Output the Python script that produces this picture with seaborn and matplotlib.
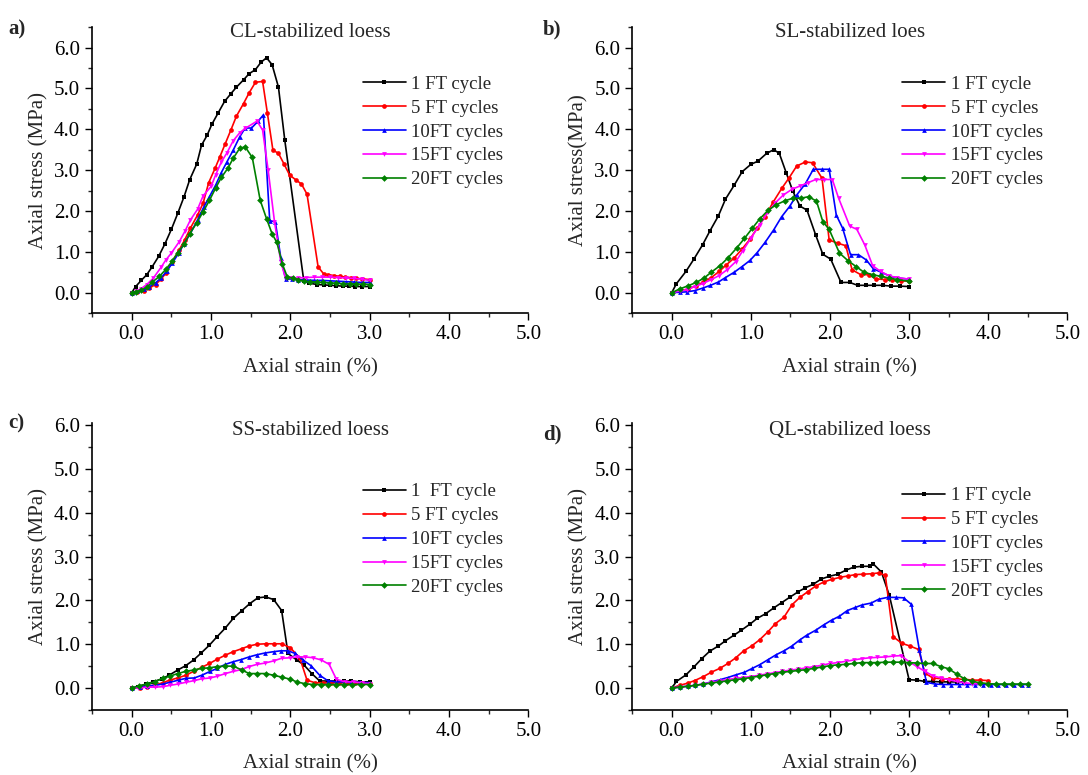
import numpy as np
import pandas as pd
import matplotlib
matplotlib.use("Agg")
import matplotlib.pyplot as plt
import seaborn as sns
from matplotlib.ticker import MultipleLocator, FormatStrFormatter

# ---- data (strain %, stress MPa) ----

# a) CL-stabilized loess
cl_x1 = [0, 0.05, 0.12, 0.19, 0.26, 0.34, 0.42, 0.5, 0.58, 0.66, 0.73, 0.82, 0.88, 0.95, 1.01, 1.09, 1.17, 1.25, 1.32, 1.41,
         1.48, 1.56, 1.63, 1.70, 1.77, 1.85, 1.93, 2.17, 2.24, 2.34, 2.42, 2.5, 2.58, 2.66, 2.74, 2.82, 2.9, 3.0]
cl_y1 = [0, 0.15, 0.3, 0.44, 0.64, 0.89, 1.2, 1.55, 1.94, 2.35, 2.76, 3.15, 3.61, 3.85, 4.12, 4.4, 4.68, 4.87, 5.03, 5.21,
         5.36, 5.46, 5.64, 5.75, 5.58, 5.03, 3.73, 0.28, 0.23, 0.2, 0.19, 0.18, 0.17, 0.16, 0.16, 0.15, 0.15, 0.15]
cl_x5 = [0, 0.07, 0.15, 0.22, 0.3, 0.37, 0.43, 0.51, 0.6, 0.67, 0.74, 0.83, 0.9, 0.97, 1.05, 1.11, 1.18, 1.25, 1.32, 1.41,
         1.48, 1.56, 1.65, 1.71, 1.78, 1.85, 1.92, 1.99, 2.07, 2.14, 2.21, 2.35, 2.42, 2.48, 2.55, 2.62, 2.69, 2.76, 2.83,
         2.9, 3.0]
cl_y5 = [0, 0.02, 0.05, 0.11, 0.2, 0.33, 0.48, 0.76, 1.05, 1.3, 1.58, 1.9, 2.19, 2.69, 3.04, 3.32, 3.65, 3.98, 4.32, 4.63,
         4.89, 5.15, 5.17, 4.4, 3.49, 3.41, 3.15, 2.88, 2.76, 2.66, 2.41, 0.63, 0.46, 0.44, 0.42, 0.4, 0.38, 0.37, 0.35,
         0.34, 0.32]
cl_x10 = [0, 0.07, 0.15, 0.22, 0.3, 0.37, 0.44, 0.51, 0.59, 0.66, 0.74, 0.83, 0.91, 0.98, 1.06, 1.13, 1.2, 1.28, 1.36,
          1.43, 1.51, 1.59, 1.66, 1.74, 1.81, 1.88, 1.94, 2.02, 2.1, 2.2, 2.3, 2.4, 2.5, 2.6, 2.7, 2.8, 2.9, 3.0]
cl_y10 = [0, 0.03, 0.08, 0.14, 0.24, 0.36, 0.52, 0.72, 0.96, 1.2, 1.45, 1.78, 2.1, 2.35, 2.64, 2.94, 3.2, 3.49, 3.81,
          4.03, 4.03, 4.19, 4.35, 1.76, 1.74, 0.85, 0.33, 0.33, 0.32, 0.31, 0.3, 0.3, 0.29, 0.28, 0.27, 0.26, 0.25, 0.25]
cl_x15 = [0, 0.05, 0.12, 0.19, 0.27, 0.37, 0.43, 0.5, 0.6, 0.67, 0.74, 0.83, 0.9, 1.0, 1.06, 1.13, 1.2, 1.28, 1.36, 1.43,
          1.58, 1.65, 1.72, 1.8, 1.88, 1.94, 2.02, 2.1, 2.2, 2.3, 2.4, 2.5, 2.6, 2.7, 2.8, 2.9, 3.0]
cl_y15 = [0, 0.03, 0.1, 0.2, 0.35, 0.62, 0.8, 0.97, 1.25, 1.5, 1.78, 2.04, 2.37, 2.6, 2.89, 3.2, 3.42, 3.72, 3.91, 4.02,
          4.2, 3.98, 3.0, 1.74, 0.75, 0.35, 0.35, 0.36, 0.37, 0.38, 0.38, 0.38, 0.37, 0.36, 0.35, 0.33, 0.3]
cl_x20 = [0, 0.05, 0.12, 0.19, 0.26, 0.35, 0.43, 0.51, 0.58, 0.66, 0.73, 0.82, 0.9, 0.98, 1.06, 1.13, 1.21, 1.28, 1.36,
          1.43, 1.52, 1.62, 1.7, 1.77, 1.83, 1.9, 1.96, 2.03, 2.1, 2.17, 2.25, 2.33, 2.41, 2.5, 2.58, 2.66, 2.75, 2.83,
          2.92, 3.0]
cl_y20 = [0, 0.02, 0.06, 0.13, 0.26, 0.4, 0.57, 0.77, 0.98, 1.18, 1.44, 1.71, 1.98, 2.26, 2.57, 2.82, 3.04, 3.29, 3.53,
          3.57, 3.31, 2.26, 1.81, 1.44, 1.23, 0.7, 0.39, 0.36, 0.32, 0.28, 0.27, 0.26, 0.25, 0.24, 0.23, 0.22, 0.22, 0.21,
          0.21, 0.2]

# b) SL-stabilized loess
sl_x1 = [0, 0.06, 0.18, 0.28, 0.39, 0.48, 0.59, 0.68, 0.79, 0.89, 1.0, 1.09, 1.2, 1.29, 1.36, 1.45, 1.53, 1.62, 1.71,
         1.82, 1.91, 2.01, 2.14, 2.25, 2.35, 2.46, 2.56, 2.67, 2.77, 2.88, 3.0]
sl_y1 = [0, 0.22, 0.52, 0.82, 1.17, 1.5, 1.88, 2.29, 2.63, 2.96, 3.14, 3.22, 3.41, 3.5, 3.41, 2.92, 2.49, 2.12, 2.02,
         1.41, 0.94, 0.82, 0.25, 0.25, 0.18, 0.18, 0.18, 0.18, 0.16, 0.16, 0.15]
sl_x5 = [0, 0.1, 0.21, 0.31, 0.4, 0.5, 0.6, 0.69, 0.79, 0.89, 0.99, 1.08, 1.18, 1.28, 1.39, 1.48, 1.58, 1.69, 1.78, 1.9,
         1.99, 2.1, 2.2, 2.28, 2.39, 2.49, 2.58, 2.69, 2.79, 2.9, 3.0]
sl_y5 = [0, 0.03, 0.09, 0.17, 0.26, 0.37, 0.52, 0.68, 0.85, 1.07, 1.31, 1.58, 1.86, 2.21, 2.55, 2.8, 3.1, 3.2, 3.18, 2.8,
         1.29, 1.21, 1.15, 0.56, 0.44, 0.44, 0.34, 0.32, 0.3, 0.29, 0.28]
sl_x10 = [0, 0.1, 0.19, 0.29, 0.39, 0.49, 0.59, 0.68, 0.79, 0.89, 0.99, 1.08, 1.18, 1.29, 1.39, 1.49, 1.58, 1.69, 1.79,
          1.9, 1.99, 2.08, 2.16, 2.26, 2.36, 2.46, 2.55, 2.65, 2.76, 2.86, 3.0]
sl_y10 = [0, 0.01, 0.02, 0.05, 0.11, 0.18, 0.26, 0.37, 0.5, 0.64, 0.79, 0.98, 1.23, 1.54, 1.86, 2.11, 2.39, 2.67, 3.02,
          3.02, 3.02, 1.9, 1.58, 0.93, 0.93, 0.8, 0.58, 0.5, 0.4, 0.36, 0.33]
sl_x15 = [0, 0.1, 0.19, 0.29, 0.39, 0.5, 0.6, 0.7, 0.81, 0.9, 1.0, 1.11, 1.22, 1.31, 1.41, 1.52, 1.62, 1.72, 1.82, 1.92,
          2.03, 2.11, 2.25, 2.34, 2.44, 2.54, 2.64, 2.75, 2.85, 3.0]
sl_y15 = [0, 0.04, 0.07, 0.15, 0.22, 0.32, 0.42, 0.56, 0.76, 1.03, 1.33, 1.66, 1.98, 2.2, 2.39, 2.53, 2.61, 2.69, 2.77,
          2.77, 2.77, 2.31, 1.63, 1.55, 1.17, 0.66, 0.52, 0.41, 0.37, 0.33]
sl_x20 = [0, 0.1, 0.21, 0.31, 0.41, 0.5, 0.61, 0.71, 0.82, 0.92, 1.02, 1.11, 1.22, 1.32, 1.43, 1.53, 1.63, 1.73, 1.83,
          1.91, 1.99, 2.12, 2.23, 2.33, 2.43, 2.54, 2.64, 2.75, 2.85, 3.0]
sl_y20 = [0, 0.09, 0.17, 0.25, 0.36, 0.5, 0.66, 0.85, 1.09, 1.33, 1.58, 1.8, 2.02, 2.15, 2.25, 2.31, 2.31, 2.35, 2.24,
          1.74, 1.55, 0.97, 0.78, 0.64, 0.5, 0.44, 0.4, 0.36, 0.32, 0.28]

# c) SS-stabilized loess
ss_x1 = [0, 0.08, 0.18, 0.27, 0.38, 0.47, 0.58, 0.68, 0.78, 0.87, 0.98, 1.07, 1.18, 1.28, 1.39, 1.49, 1.59, 1.69, 1.79,
         1.89, 1.97, 2.08, 2.17, 2.27, 2.37, 2.47, 2.57, 2.68, 2.77, 2.88, 3.0]
ss_y1 = [0, 0.03, 0.09, 0.14, 0.21, 0.29, 0.41, 0.51, 0.64, 0.79, 0.98, 1.16, 1.37, 1.59, 1.77, 1.93, 2.06, 2.08, 2.02,
         1.77, 0.79, 0.64, 0.53, 0.33, 0.16, 0.16, 0.16, 0.16, 0.16, 0.14, 0.14]
ss_x5 = [0, 0.1, 0.19, 0.29, 0.39, 0.48, 0.58, 0.68, 0.78, 0.88, 0.98, 1.08, 1.18, 1.28, 1.39, 1.48, 1.58, 1.69, 1.79,
         1.89, 2.0, 2.12, 2.21, 2.31, 2.41, 2.51, 2.61, 2.71, 2.81, 2.91, 3.0]
ss_y5 = [0, 0, 0.03, 0.07, 0.12, 0.18, 0.23, 0.29, 0.38, 0.47, 0.56, 0.66, 0.75, 0.83, 0.9, 0.96, 1.0, 1.01, 1.01, 1.01,
         0.92, 0.68, 0.18, 0.12, 0.12, 0.12, 0.12, 0.12, 0.12, 0.12, 0.1]
ss_x10 = [0, 0.1, 0.19, 0.29, 0.39, 0.48, 0.59, 0.68, 0.79, 0.88, 0.99, 1.08, 1.18, 1.28, 1.38, 1.48, 1.58, 1.68, 1.79,
          1.88, 1.97, 2.06, 2.16, 2.26, 2.37, 2.47, 2.57, 2.67, 2.77, 2.88, 3.0]
ss_y10 = [0, 0.02, 0.05, 0.06, 0.09, 0.13, 0.18, 0.22, 0.23, 0.29, 0.38, 0.45, 0.54, 0.6, 0.65, 0.71, 0.76, 0.8, 0.83,
          0.85, 0.85, 0.79, 0.64, 0.51, 0.29, 0.17, 0.14, 0.14, 0.13, 0.13, 0.12]
ss_x15 = [0, 0.08, 0.19, 0.29, 0.39, 0.48, 0.58, 0.68, 0.79, 0.88, 0.99, 1.08, 1.18, 1.28, 1.38, 1.48, 1.58, 1.68, 1.79,
          1.89, 1.99, 2.09, 2.19, 2.29, 2.39, 2.49, 2.58, 2.69, 2.79, 2.9, 3.0]
ss_y15 = [0, 0, 0.02, 0.02, 0.03, 0.06, 0.09, 0.13, 0.17, 0.21, 0.23, 0.27, 0.33, 0.38, 0.42, 0.49, 0.54, 0.57, 0.62,
          0.68, 0.69, 0.71, 0.71, 0.69, 0.64, 0.54, 0.2, 0.14, 0.14, 0.12, 0.1]
ss_x20 = [0, 0.09, 0.19, 0.29, 0.39, 0.48, 0.58, 0.68, 0.78, 0.88, 0.98, 1.08, 1.18, 1.28, 1.39, 1.48, 1.58, 1.69, 1.79,
          1.89, 2.0, 2.08, 2.18, 2.28, 2.38, 2.48, 2.58, 2.68, 2.78, 2.89, 3.0]
ss_y20 = [0, 0.05, 0.09, 0.14, 0.22, 0.27, 0.33, 0.38, 0.41, 0.45, 0.46, 0.49, 0.5, 0.5, 0.41, 0.33, 0.33, 0.33, 0.29,
          0.25, 0.2, 0.14, 0.1, 0.08, 0.08, 0.08, 0.08, 0.08, 0.08, 0.08, 0.08]

# d) QL-stabilized loess
ql_x1 = [0, 0.06, 0.18, 0.28, 0.38, 0.48, 0.59, 0.68, 0.79, 0.88, 0.99, 1.08, 1.19, 1.29, 1.39, 1.49, 1.6, 1.69, 1.79,
         1.89, 1.99, 2.1, 2.2, 2.3, 2.4, 2.5, 2.55, 2.65, 2.75, 3.0, 3.1, 3.2, 3.3, 3.4, 3.5, 3.6, 3.7]
ql_y1 = [0, 0.15, 0.3, 0.48, 0.67, 0.84, 0.96, 1.08, 1.21, 1.32, 1.46, 1.59, 1.7, 1.83, 1.95, 2.07, 2.2, 2.29, 2.37,
         2.49, 2.55, 2.6, 2.69, 2.76, 2.78, 2.78, 2.83, 2.65, 2.12, 0.19, 0.18, 0.15, 0.15, 0.14, 0.14, 0.14, 0.14]
ql_x5 = [0, 0.1, 0.2, 0.29, 0.4, 0.5, 0.61, 0.71, 0.81, 0.91, 1.01, 1.11, 1.22, 1.31, 1.42, 1.52, 1.62, 1.72, 1.82,
         1.92, 2.02, 2.13, 2.23, 2.32, 2.42, 2.53, 2.62, 2.7, 2.8, 2.91, 3.01, 3.12, 3.2, 3.3, 3.41, 3.5, 3.6, 3.7, 3.8,
         3.9, 4.0]
ql_y5 = [0, 0.06, 0.11, 0.17, 0.26, 0.36, 0.45, 0.56, 0.69, 0.85, 0.96, 1.1, 1.29, 1.47, 1.62, 1.9, 2.07, 2.2, 2.33,
         2.42, 2.48, 2.53, 2.56, 2.59, 2.6, 2.61, 2.63, 2.57, 1.17, 1.02, 0.96, 0.88, 0.34, 0.23, 0.21, 0.21, 0.2, 0.2,
         0.18, 0.18, 0.17]
ql_x10 = [0, 0.1, 0.2, 0.29, 0.4, 0.5, 0.61, 0.71, 0.81, 0.92, 1.02, 1.11, 1.22, 1.32, 1.42, 1.52, 1.62, 1.71, 1.82,
          1.92, 2.02, 2.12, 2.22, 2.32, 2.41, 2.52, 2.62, 2.73, 2.83, 2.93, 3.03, 3.13, 3.22, 3.33, 3.43, 3.53, 3.63,
          3.73, 3.83, 3.93, 4.03, 4.13, 4.23, 4.33, 4.43, 4.5]
ql_y10 = [0, 0.02, 0.04, 0.06, 0.09, 0.14, 0.19, 0.24, 0.3, 0.36, 0.45, 0.53, 0.65, 0.76, 0.85, 0.96, 1.1, 1.21, 1.32,
          1.44, 1.55, 1.64, 1.77, 1.84, 1.9, 1.94, 2.03, 2.07, 2.07, 2.06, 1.91, 0.87, 0.13, 0.09, 0.08, 0.08, 0.08,
          0.08, 0.08, 0.08, 0.08, 0.08, 0.08, 0.08, 0.08, 0.08]
ql_x15 = [0, 0.1, 0.2, 0.3, 0.4, 0.5, 0.6, 0.7, 0.8, 0.9, 1.0, 1.1, 1.2, 1.3, 1.4, 1.5, 1.6, 1.7, 1.8, 1.9, 2.0, 2.1,
          2.2, 2.3, 2.4, 2.5, 2.6, 2.7, 2.8, 2.9, 3.0, 3.1, 3.2, 3.3, 3.4, 3.5, 3.6, 3.7, 3.8, 3.9]
ql_y15 = [0, 0.02, 0.04, 0.06, 0.09, 0.13, 0.16, 0.19, 0.22, 0.24, 0.26, 0.29, 0.32, 0.35, 0.38, 0.41, 0.43, 0.46, 0.49,
          0.52, 0.56, 0.58, 0.61, 0.64, 0.67, 0.69, 0.7, 0.71, 0.73, 0.74, 0.6, 0.49, 0.38, 0.28, 0.23, 0.19, 0.15, 0.12,
          0.1, 0.09]
ql_x20 = [0, 0.1, 0.2, 0.3, 0.4, 0.5, 0.6, 0.7, 0.8, 0.9, 1.0, 1.1, 1.2, 1.3, 1.4, 1.5, 1.6, 1.7, 1.8, 1.9, 2.0, 2.1,
          2.2, 2.3, 2.4, 2.5, 2.6, 2.7, 2.8, 2.9, 3.0, 3.1, 3.2, 3.3, 3.4, 3.5, 3.6, 3.7, 3.8, 3.9, 4.0, 4.1, 4.2, 4.3,
          4.4, 4.5]
ql_y20 = [0, 0.02, 0.04, 0.06, 0.09, 0.11, 0.14, 0.16, 0.19, 0.21, 0.24, 0.27, 0.3, 0.33, 0.36, 0.38, 0.4, 0.42, 0.45,
          0.48, 0.51, 0.53, 0.54, 0.56, 0.58, 0.58, 0.58, 0.59, 0.59, 0.59, 0.58, 0.57, 0.56, 0.56, 0.49, 0.44, 0.32,
          0.21, 0.15, 0.12, 0.1, 0.09, 0.09, 0.09, 0.09, 0.09]

labels = ["1 FT cycle", "5 FT cycles", "10FT cycles", "15FT cycles", "20FT cycles"]
labels_c = ["1  FT cycle", "5 FT cycles", "10FT cycles", "15FT cycles", "20FT cycles"]
colors = ["black", "red", "blue", "magenta", "green"]
marks = ["s", "o", "^", "v", "D"]

titles = ["CL-stabilized loess", "SL-stabilized loes", "SS-stabilized loess", "QL-stabilized loess"]
ylabels = ["Axial stress (MPa)", "Axial stress(MPa)", "Axial stress (MPa)", "Axial stress (MPa)"]
tags = ["a)", "b)", "c)", "d)"]

panels = [
    ([cl_x1, cl_x5, cl_x10, cl_x15, cl_x20], [cl_y1, cl_y5, cl_y10, cl_y15, cl_y20], labels),
    ([sl_x1, sl_x5, sl_x10, sl_x15, sl_x20], [sl_y1, sl_y5, sl_y10, sl_y15, sl_y20], labels),
    ([ss_x1, ss_x5, ss_x10, ss_x15, ss_x20], [ss_y1, ss_y5, ss_y10, ss_y15, ss_y20], labels_c),
    ([ql_x1, ql_x5, ql_x10, ql_x15, ql_x20], [ql_y1, ql_y5, ql_y10, ql_y15, ql_y20], labels),
]

sns.set_style("ticks")
plt.rcParams["font.family"] = ["Liberation Serif", "DejaVu Serif"]

fig = plt.figure(figsize=(10.88, 7.75), dpi=100)

# axes boxes in figure fractions
boxes = [
    [0.0846, 0.596, 0.401, 0.369],
    [0.581, 0.596, 0.400, 0.369],
    [0.0846, 0.084, 0.401, 0.370],
    [0.581, 0.084, 0.400, 0.370],
]
ytops = [6.5, 6.5, 6.05, 6.05]
leg_y = [0.83, 0.83, 0.79, 0.777]
title_y = [0.982, 0.982, 0.975, 0.975]
tag_pos = [(0.008, 0.975), (0.499, 0.975), (0.008, 0.467), (0.499, 0.452)]

for i, (xs, ys, labs) in enumerate(panels):
    ax = fig.add_axes(boxes[i])

    df = pd.concat(
        [pd.DataFrame({"strain": x, "stress": y, "cycles": lab}) for x, y, lab in zip(xs, ys, labs)],
        ignore_index=True
    )

    sns.lineplot(
        data=df,
        x="strain",
        y="stress",
        hue="cycles",
        style="cycles",
        palette=dict(zip(labs, colors)),
        markers=dict(zip(labs, marks)),
        dashes=False,
        sort=False,
        estimator=None,
        markersize=3.4,
        markeredgewidth=0,
        linewidth=1.2,
        ax=ax
    )

    ax.set_xlim(-0.5, 5.0)
    ax.set_ylim(-0.5, ytops[i])
    ax.xaxis.set_minor_locator(MultipleLocator(0.5))
    ax.yaxis.set_minor_locator(MultipleLocator(0.5))
    ax.set_xticks(np.arange(0, 5.01, 1.0))
    ax.set_yticks(np.arange(0, 6.01, 1.0))
    ax.xaxis.set_major_formatter(FormatStrFormatter("%.1f"))
    ax.yaxis.set_major_formatter(FormatStrFormatter("%.1f"))
    ax.tick_params(which="major", direction="out", length=5, width=1.0, labelsize=15, colors="black")
    ax.tick_params(which="minor", direction="out", length=3, width=1.0)
    sns.despine(ax=ax)
    for s in ["left", "bottom"]:
        ax.spines[s].set_linewidth(1.2)
        ax.spines[s].set_color("black")

    ax.set_xlabel("Axial strain (%)", fontsize=15, labelpad=10)
    ax.set_ylabel(ylabels[i], fontsize=15, labelpad=4)

    ax.text(0.5, title_y[i], titles[i], transform=ax.transAxes, ha="center", va="center", fontsize=15)

    ax.legend(
        loc="upper left",
        bbox_to_anchor=(0.62, leg_y[i]),
        frameon=False,
        fontsize=13.5,
        handlelength=2.3,
        handletextpad=0.3,
        labelspacing=0.36,
        borderaxespad=0,
        borderpad=0
    )

    fig.text(tag_pos[i][0], tag_pos[i][1], tags[i], fontsize=15, fontweight="bold", va="top")

fig.savefig("out.png", dpi=100)
